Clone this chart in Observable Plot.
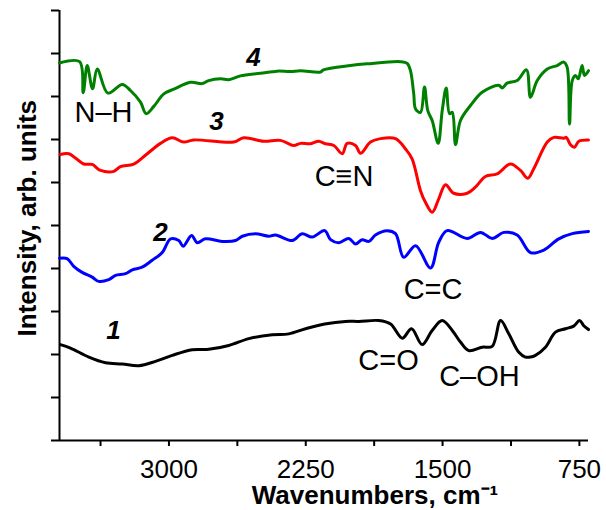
<!DOCTYPE html>
<html><head><meta charset="utf-8">
<script src="https://cdn.jsdelivr.net/npm/d3@7"></script>
<script src="https://cdn.jsdelivr.net/npm/@observablehq/plot@0.6"></script>
<style>body{margin:0;background:#fff;} #chart svg{display:block;}</style>
</head><body><div id="chart"></div>
<script>
// Series 1 (black)
const w1 = [3595,3540,3439,3348,3256,3165,3074,2982,2872,2782,2672,2562,2434,2343,2251,2146,2032,1959,1850,1785,1721,1670,1612,1557,1502,1447,1402,1356,1283,1228,1182,1137,1082,1046,1018,991,936,881,826,781,749,726,700];
const i1 = [2.23,2.15,1.94,1.81,1.78,1.74,1.84,1.98,2.11,2.12,2.21,2.37,2.46,2.48,2.60,2.71,2.77,2.77,2.79,2.71,2.38,2.60,2.23,2.56,2.79,2.56,2.29,2.09,2.17,2.19,2.79,2.48,2.05,1.94,1.94,1.98,2.17,2.52,2.60,2.66,2.79,2.67,2.58];
// Series 2 (blue)
const w2 = [3600,3558,3522,3476,3421,3385,3330,3293,3238,3201,3147,3092,3037,2991,2946,2922,2876,2845,2800,2708,2635,2598,2526,2453,2416,2324,2270,2215,2146,2114,2069,2014,1977,1941,1904,1868,1804,1758,1713,1648,1566,1521,1475,1365,1292,1228,1164,1091,1018,945,863,789,700];
const i2 = [4.24,4.23,4.05,3.91,3.80,3.70,3.74,3.84,3.88,3.97,4.03,4.19,4.37,4.69,4.65,4.52,4.77,4.60,4.69,4.63,4.65,4.75,4.81,4.75,4.78,4.65,4.81,4.73,4.88,4.67,4.60,4.70,4.57,4.67,4.63,4.78,4.88,4.81,4.26,4.53,4.01,4.61,4.88,4.70,4.84,4.70,4.84,4.78,4.37,4.43,4.69,4.81,4.86];
// Series 3 (red)
const w3 = [3595,3549,3467,3421,3375,3302,3266,3193,3119,3046,2982,2919,2864,2645,2590,2480,2389,2316,2279,2224,2179,2142,2096,2050,2023,1977,1950,1895,1840,1758,1703,1667,1621,1594,1557,1521,1484,1439,1365,1320,1265,1201,1128,1073,1033,1000,926,890,835,822,799,777,753,700];
const i3 = [6.65,6.67,6.43,6.42,6.28,6.26,6.37,6.43,6.67,6.91,7.04,6.94,6.99,6.94,7.04,6.96,6.98,6.86,6.91,6.90,6.96,6.90,6.86,6.67,6.91,6.86,6.68,6.94,7.02,7.02,6.78,6.55,5.81,5.54,5.31,5.62,5.95,5.75,5.75,5.89,6.14,6.20,6.43,6.28,6.10,6.32,6.94,7.05,7.03,7.05,6.88,6.82,6.96,6.99];
// Series 4 (green)
const w4 = [3600,3490,3470,3448,3419,3393,3335,3256,3211,3156,3125,3083,3028,2973,2882,2818,2782,2717,2672,2608,2498,2407,2334,2279,2169,2153,2005,1913,1731,1694,1676,1658,1648,1621,1599,1581,1557,1524,1502,1480,1462,1447,1429,1402,1347,1283,1192,1173,1146,1091,1040,1018,981,926,872,835,817,804,789,771,756,735,722,700];
const i4 = [8.78,8.81,8.09,8.72,8.18,8.64,8.08,8.28,8.14,7.87,7.60,7.77,8.06,8.17,8.33,8.30,8.37,8.41,8.39,8.48,8.54,8.59,8.58,8.60,8.57,8.62,8.72,8.76,8.81,8.77,8.60,8.06,7.71,7.63,8.22,7.67,7.44,6.91,7.67,8.20,7.60,7.63,6.88,7.44,7.79,8.10,8.26,8.20,8.31,8.37,8.62,7.98,8.37,8.64,8.72,8.80,8.68,7.36,8.37,8.49,8.41,8.72,8.49,8.60];

const seriesNames = ["1","2","3","4"];
const seriesColors = ["#000000","#0000ff","#ff0000","#008000"];
const xTickLabels = [3000,2250,1500,750];
const xTickMarks = [3375,3000,2625,2250,1875,1500,1125,750];
const yTickMarks = [0,1,2,3,4,5,6,7,8,9,10];

// curve number labels
const numText = ["4","3","2","1"];
const numX = [2536,2739,3046,3304];
const numY = [8.72,7.21,4.65,2.35];
// band annotations
const bandText = ["N\u2013H","C\u2261N","C=C","C=O","C\u2013OH"];
const bandX = [3359,2040,1552,1796,1298];
const bandY = [7.40,5.93,3.30,1.63,1.26];

const toRows = (s, w, v) => w.map((x, k) => ({series: s, wave: x, intensity: v[k]}));
const rows = [
  ...toRows("1", w1, i1), ...toRows("2", w2, i2),
  ...toRows("3", w3, i3), ...toRows("4", w4, i4)
];
const nums = numText.map((t, k) => ({t, x: numX[k], y: numY[k]}));
const bands = bandText.map((t, k) => ({t, x: bandX[k], y: bandY[k]}));

const chart = Plot.plot({
  width: 606, height: 510,
  marginLeft: 59, marginRight: 18, marginTop: 10, marginBottom: 70,
  style: {fontFamily: "'Liberation Sans', Arial, sans-serif", fontSize: "26px", color: "#000", background: "#fff"},
  x: {domain: [3600, 700]},
  y: {domain: [0, 10]},
  color: {domain: seriesNames, range: seriesColors},
  marks: [
    Plot.axisY({ticks: yTickMarks, tickSize: 8, tickFormat: () => "", strokeWidth: 2, label: null}),
    Plot.axisX({ticks: xTickMarks, tickSize: 6, tickFormat: () => "", strokeWidth: 2, label: null}),
    Plot.text(xTickLabels, {x: d => d, text: d => String(d), frameAnchor: "bottom", textAnchor: "middle", lineAnchor: "top", dy: 19, fontSize: 26}),
    Plot.ruleX([3600], {strokeWidth: 2}),
    Plot.ruleY([0], {strokeWidth: 2}),
    Plot.line(rows, {x: "wave", y: "intensity", z: "series", stroke: "series", strokeWidth: 3, curve: "catmull-rom", strokeLinejoin: "round"}),
    Plot.text(nums, {x: "x", y: "y", text: "t", lineAnchor: "bottom", fontSize: 26, fontWeight: "bold", fontStyle: "italic"}),
    Plot.text(bands, {x: "x", y: "y", text: "t", lineAnchor: "bottom", fontSize: 29}),
    Plot.text(["Wavenumbers, cm\u207B\u00B9"], {frameAnchor: "bottom", dx: 51, dy: 63, lineAnchor: "bottom", fontWeight: "bold", fontSize: 26}),
    Plot.text(["Intensity, arb. units"], {frameAnchor: "left", y: [5.17], dx: -32, rotate: -90, textAnchor: "middle", fontWeight: "bold", fontSize: 26})
  ]
});
document.getElementById("chart").append(chart);
</script>
</body></html>
